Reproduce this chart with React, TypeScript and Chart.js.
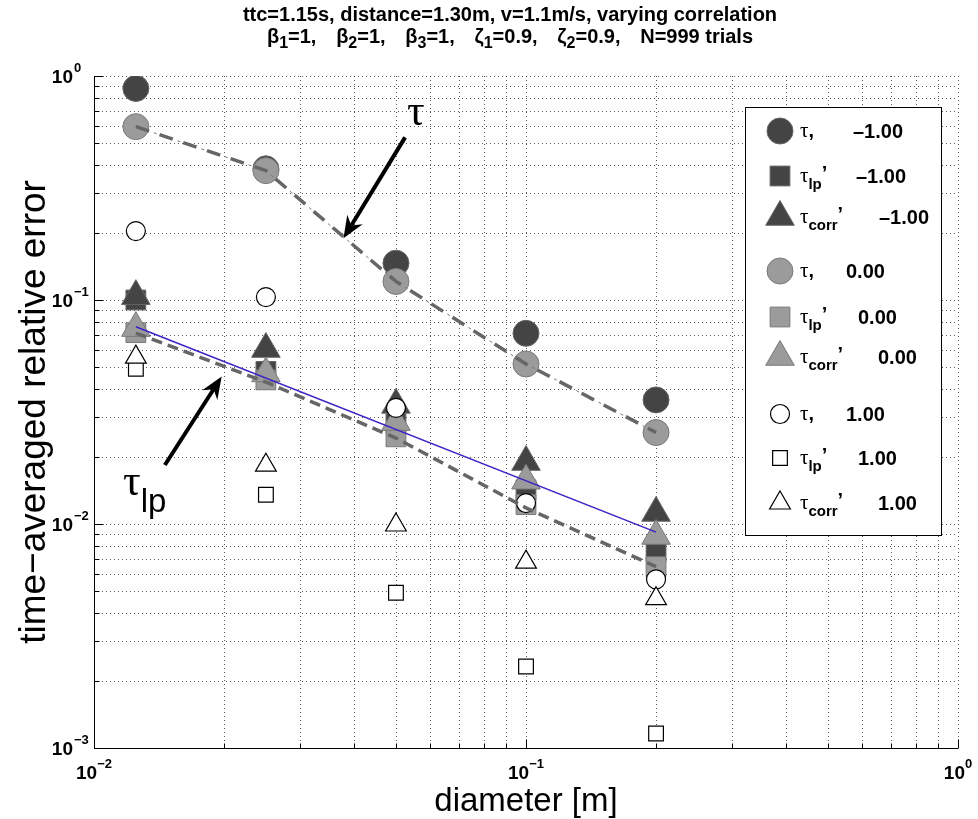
import React, { useEffect, useRef } from "react";
import { Chart, registerables } from "chart.js";
Chart.register(...registerables);

// ---------- data ----------
const diameters = [0.0125, 0.025, 0.05, 0.1, 0.2];
const tauNeg1 = [0.88, 0.385, 0.146, 0.071, 0.0358];
const tauLpNeg1 = [0.1, 0.048, 0.028, 0.0142, 0.0075];
const tauCorrNeg1 = [0.104, 0.0604, 0.034, 0.0189, 0.0112];
const tau0 = [0.594, 0.378, 0.121, 0.0518, 0.0256];
const tauLp0 = [0.0715, 0.044, 0.0245, 0.0122, 0.00645];
const tauCorr0 = [0.0749, 0.047, 0.0285, 0.0156, 0.00884];
const tau1 = [0.203, 0.103, 0.033, 0.0124, 0.00566];
const tauLp1 = [0.0493, 0.0135, 0.00493, 0.00231, 0.00116];
const tauCorr1 = [0.0556, 0.0183, 0.0099, 0.00676, 0.00464];

const tauTrendY = [0.594, 0.378, 0.121, 0.0518, 0.0256];
const tauLpTrendY = [0.0712, 0.043, 0.0242, 0.0118, 0.00645];
const fitX = [0.0125, 0.2];
const fitY = [0.076, 0.0092];

const xExponents = ["\u22122", "\u22121", "0"];
const xDecades = [0.01, 0.1, 1];
const yExponents = ["\u22123", "\u22122", "\u22121", "0"];
const yDecades = [0.001, 0.01, 0.1, 1];

const titleLine1 = "ttc=1.15s, distance=1.30m, v=1.1m/s, varying correlation";
const titleLine2 = [
  ["\u03b2", "1", "=1,"],
  ["\u03b2", "2", "=1,"],
  ["\u03b2", "3", "=1,"],
  ["\u03b6", "1", "=0.9,"],
  ["\u03b6", "2", "=0.9,"],
  ["N=999 trials", "", ""],
];
const xLabel = "diameter [m]";
const yLabel = "time\u2212averaged relative error";

const legendSubs = ["", "lp", "corr", "", "lp", "corr", "", "lp", "corr"];
const legendValues = ["\u20131.00", "\u20131.00", "\u20131.00", "0.00", "0.00", "0.00", "1.00", "1.00", "1.00"];

// annotation anchors (data coordinates)
const tauNote = { x: 0.053, y: 0.604 };
const tauArrow = { x1: 0.0525, y1: 0.532, x2: 0.0378, y2: 0.1886 };
const lpNote = { x: 0.01167, y: 0.01347 };
const lpArrow = { x1: 0.01459, y1: 0.01834, x2: 0.01975, y2: 0.0455 };

// ---------- styles ----------
const DARK = "#444444";
const DARK_EDGE = "#666666";
const GRAY = "#9b9b9b";
const GRAY_EDGE = "#7a7a7a";
const SANS = "'Liberation Sans', Arial, sans-serif";
const SERIF = "'Liberation Serif', 'DejaVu Serif', serif";

const pts = (ys: number[]) => diameters.map((d, i) => ({ x: d, y: ys[i] }));
const xy = (xs: number[], ys: number[]) => xs.map((d, i) => ({ x: d, y: ys[i] }));

function marker(data: number[], style: string, r: number, fill: string, edge: string, order: number, bw = 1) {
  return {
    data: pts(data),
    showLine: false,
    pointStyle: style,
    pointRadius: r,
    pointHoverRadius: r,
    backgroundColor: fill,
    borderColor: edge,
    pointBorderWidth: bw,
    borderWidth: bw,
    order,
  };
}

const markerSets = [
  marker(tauNeg1, "circle", 13, DARK, DARK_EDGE, 9),
  marker(tauLpNeg1, "rect", 14, DARK, DARK_EDGE, 8),
  marker(tauCorrNeg1, "triangle", 16.5, DARK, DARK_EDGE, 7),
  marker(tau0, "circle", 13, GRAY, GRAY_EDGE, 6),
  marker(tauLp0, "rect", 14, GRAY, GRAY_EDGE, 5),
  marker(tauCorr0, "triangle", 16.5, GRAY, GRAY_EDGE, 4),
  marker(tau1, "circle", 9.5, "#ffffff", "#000000", 3, 1.2),
  marker(tauLp1, "rect", 10.4, "#ffffff", "#000000", 2, 1.2),
  marker(tauCorr1, "triangle", 12, "#ffffff", "#000000", 1, 1.2),
];

type Run = { t: string; font: string; dy?: number; gap?: number };
function runsWidth(ctx: CanvasRenderingContext2D, runs: Run[]) {
  let w = 0;
  for (const r of runs) {
    ctx.font = r.font;
    w += ctx.measureText(r.t).width + (r.gap || 0);
  }
  return w;
}
function drawRuns(ctx: CanvasRenderingContext2D, runs: Run[], x: number, y: number, align: string) {
  const w = runsWidth(ctx, runs);
  let cx = align === "left" ? x : align === "center" ? x - w / 2 : x - w;
  ctx.textAlign = "left";
  ctx.textBaseline = "alphabetic";
  for (const r of runs) {
    ctx.font = r.font;
    ctx.fillText(r.t, cx, y + (r.dy || 0));
    cx += ctx.measureText(r.t).width + (r.gap || 0);
  }
  return cx;
}

function drawArrow(ctx: CanvasRenderingContext2D, x1: number, y1: number, x2: number, y2: number) {
  const ang = Math.atan2(y2 - y1, x2 - x1);
  const L = 22, W = 9, notch = 7;
  const bx = x2 - Math.cos(ang) * (L - notch);
  const by = y2 - Math.sin(ang) * (L - notch);
  ctx.strokeStyle = "#000";
  ctx.lineWidth = 4;
  ctx.lineCap = "butt";
  ctx.beginPath();
  ctx.moveTo(x1, y1);
  ctx.lineTo(bx, by);
  ctx.stroke();
  const backX = x2 - Math.cos(ang) * L;
  const backY = y2 - Math.sin(ang) * L;
  const nx = -Math.sin(ang), ny = Math.cos(ang);
  ctx.fillStyle = "#000";
  ctx.beginPath();
  ctx.moveTo(x2, y2);
  ctx.lineTo(backX + nx * W, backY + ny * W);
  ctx.lineTo(bx, by);
  ctx.lineTo(backX - nx * W, backY - ny * W);
  ctx.closePath();
  ctx.fill();
}

function drawLegendMarker(ctx: CanvasRenderingContext2D, ds: any, x: number, y: number) {
  const r = ds.pointRadius;
  ctx.fillStyle = ds.backgroundColor;
  ctx.strokeStyle = ds.borderColor;
  ctx.lineWidth = ds.pointBorderWidth;
  ctx.beginPath();
  if (ds.pointStyle === "circle") {
    ctx.arc(x, y, r, 0, Math.PI * 2);
  } else if (ds.pointStyle === "rect") {
    const s = Math.SQRT1_2 * r;
    ctx.rect(x - s, y - s, 2 * s, 2 * s);
  } else {
    const h = (2 * Math.PI) / 3;
    for (let k = 0; k < 3; k++) {
      const a = k * h;
      const px = x + Math.sin(a) * r;
      const py = y - Math.cos(a) * r;
      if (k === 0) ctx.moveTo(px, py);
      else ctx.lineTo(px, py);
    }
    ctx.closePath();
  }
  ctx.fill();
  ctx.stroke();
}

function gridValues(decades: number[]) {
  const out: number[] = [];
  for (let i = 0; i < decades.length - 1; i++) {
    for (let m = 1; m <= 9; m++) out.push(decades[i] * m);
  }
  out.push(decades[decades.length - 1]);
  return out;
}

const overlay = {
  id: "overlay",
  beforeDraw(chart: any) {
    const { ctx, width, height } = chart;
    ctx.save();
    ctx.fillStyle = "#fff";
    ctx.fillRect(0, 0, width, height);
    ctx.restore();
  },
  beforeDatasetsDraw(chart: any) {
    const { ctx, chartArea: a, scales } = chart;
    const xs = scales.x, ys = scales.y;
    ctx.save();
    ctx.strokeStyle = "rgba(0,0,0,0.65)";
    ctx.lineWidth = 1;
    ctx.setLineDash([1, 3]);
    for (const v of gridValues(xDecades)) {
      const px = Math.round(xs.getPixelForValue(v)) + 0.5;
      ctx.beginPath();
      ctx.moveTo(px, a.top);
      ctx.lineTo(px, a.bottom);
      ctx.stroke();
    }
    for (const v of gridValues(yDecades)) {
      const py = Math.round(ys.getPixelForValue(v)) + 0.5;
      ctx.beginPath();
      ctx.moveTo(a.left, py);
      ctx.lineTo(a.right, py);
      ctx.stroke();
    }
    ctx.setLineDash([]);
    ctx.strokeStyle = "#000";
    ctx.lineWidth = 1;
    const L = Math.round(a.left) + 0.5;
    const B = Math.round(a.bottom) + 0.5;
    ctx.beginPath();
    ctx.moveTo(L, a.top);
    ctx.lineTo(L, B);
    ctx.lineTo(a.right, B);
    ctx.stroke();
    for (const v of gridValues(xDecades)) {
      const px = Math.round(xs.getPixelForValue(v)) + 0.5;
      const len = xDecades.includes(v) ? 9 : 5;
      ctx.beginPath();
      ctx.moveTo(px, B);
      ctx.lineTo(px, B - len);
      ctx.stroke();
    }
    for (const v of gridValues(yDecades)) {
      const py = Math.round(ys.getPixelForValue(v)) + 0.5;
      const len = yDecades.includes(v) ? 9 : 5;
      ctx.beginPath();
      ctx.moveTo(L, py);
      ctx.lineTo(L + len, py);
      ctx.stroke();
    }
    ctx.restore();
  },
  afterDatasetsDraw(chart: any) {
    const { ctx, chartArea: a, scales } = chart;
    const xs = scales.x, ys = scales.y;
    ctx.save();
    ctx.fillStyle = "#000";
    const TF = `bold 19px ${SANS}`;
    const SF = `bold 13px ${SANS}`;
    xDecades.forEach((v, i) => {
      const px = xs.getPixelForValue(v);
      drawRuns(ctx, [{ t: "10", font: TF }, { t: xExponents[i], font: SF, dy: -11 }], px, a.bottom + 31, "center");
    });
    yDecades.forEach((v, i) => {
      const py = ys.getPixelForValue(v);
      ctx.font = TF;
      ctx.textAlign = "right";
      ctx.textBaseline = "alphabetic";
      ctx.fillText("10", a.left - 21, py + 7);
      ctx.font = SF;
      ctx.textAlign = "left";
      ctx.fillText(yExponents[i], a.left - 20, py - 4);
    });
    ctx.font = `33px ${SANS}`;
    ctx.textAlign = "center";
    ctx.textBaseline = "alphabetic";
    ctx.fillText(xLabel, (a.left + a.right) / 2, a.bottom + 63);
    ctx.save();
    ctx.font = `37px ${SANS}`;
    ctx.translate(45, (a.top + a.bottom) / 2);
    ctx.rotate(-Math.PI / 2);
    ctx.fillText(yLabel, 0, 0);
    ctx.restore();
    // title
    const cx = (a.left + a.right) / 2 - 16;
    const TTF = `bold 20px ${SANS}`;
    ctx.font = TTF;
    ctx.textAlign = "center";
    ctx.fillText(titleLine1, cx, 21);
    const line1W = ctx.measureText(titleLine1).width;
    const runs: Run[] = [];
    for (const [g, s, rest] of titleLine2) {
      runs.push({ t: g, font: TTF });
      if (s) runs.push({ t: s, font: `bold 16px ${SANS}`, dy: 5 });
      if (rest) runs.push({ t: rest, font: TTF });
    }
    const baseW = runsWidth(ctx, runs);
    const gap = Math.max(8, (line1W * 0.91 - baseW) / (titleLine2.length - 1));
    for (const r of runs) {
      if (r.t.endsWith(",")) r.gap = gap;
    }
    drawRuns(ctx, runs, cx, 43, "center");
    // annotations
    ctx.fillStyle = "#000";
    ctx.font = `44px ${SERIF}`;
    ctx.textAlign = "left";
    ctx.fillText("\u03c4", xs.getPixelForValue(tauNote.x), ys.getPixelForValue(tauNote.y));
    drawArrow(ctx, xs.getPixelForValue(tauArrow.x1), ys.getPixelForValue(tauArrow.y1), xs.getPixelForValue(tauArrow.x2), ys.getPixelForValue(tauArrow.y2));
    drawRuns(
      ctx,
      [
        { t: "\u03c4", font: `44px ${SERIF}` },
        { t: "lp", font: `33px ${SANS}`, dy: 17 },
      ],
      xs.getPixelForValue(lpNote.x),
      ys.getPixelForValue(lpNote.y),
      "left"
    );
    drawArrow(ctx, xs.getPixelForValue(lpArrow.x1), ys.getPixelForValue(lpArrow.y1), xs.getPixelForValue(lpArrow.x2), ys.getPixelForValue(lpArrow.y2));
    // legend
    const bx = 745.5, by = 107.5, bw = 196, bh = 428;
    ctx.fillStyle = "#fff";
    ctx.fillRect(bx, by, bw, bh);
    ctx.strokeStyle = "#000";
    ctx.lineWidth = 1;
    ctx.strokeRect(bx, by, bw, bh);
    const rowY = [131, 176, 217, 271, 317, 357, 414, 458, 503];
    const valX: any = { "": [853, 846], lp: [856, 858], corr: [879, 878] };
    markerSets.forEach((ds: any, i: number) => {
      const y = rowY[i];
      drawLegendMarker(ctx, ds, 780, y);
      ctx.fillStyle = "#000";
      const sub = legendSubs[i];
      const r: Run[] = [{ t: "\u03c4", font: `21px ${SERIF}` }];
      if (sub) {
        r.push({ t: sub, font: `bold 15px ${SANS}`, dy: 7 });
        r.push({ t: "\u2019", font: `bold 20px ${SANS}`, dy: -2 });
      } else {
        r.push({ t: ",", font: `bold 20px ${SANS}` });
      }
      drawRuns(ctx, r, 800, y + 6, "left");
      const neg = legendValues[i].startsWith("\u2013");
      ctx.font = `bold 20px ${SANS}`;
      ctx.textAlign = "left";
      ctx.fillText(legendValues[i], valX[sub][neg ? 0 : 1], y + 7);
    });
    ctx.restore();
  },
};

export default function App() {
  const ref = useRef<HTMLCanvasElement>(null);
  useEffect(() => {
    const canvas = ref.current;
    if (!canvas) return;
    const lineSets: any[] = [
      {
        data: xy(fitX, fitY),
        showLine: true,
        borderColor: "#3a24c4",
        borderWidth: 1.5,
        pointRadius: 0,
        fill: false,
        order: 0,
      },
      {
        data: pts(tauLpTrendY),
        showLine: true,
        borderColor: "#666666",
        borderWidth: 3.5,
        borderDash: [11, 6],
        pointRadius: 0,
        fill: false,
        order: 0,
      },
      {
        data: pts(tauTrendY),
        showLine: true,
        borderColor: "#666666",
        borderWidth: 3.5,
        borderDash: [14, 11],
        pointRadius: 0,
        fill: false,
        order: 0,
      },
      {
        data: pts(tauTrendY),
        showLine: true,
        borderColor: "#777777",
        borderWidth: 1,
        borderDash: [3, 22],
        borderDashOffset: 6,
        pointRadius: 0,
        fill: false,
        order: 0,
      },
    ];
    const chart = new Chart(canvas, {
      type: "scatter",
      data: { datasets: [...lineSets, ...markerSets] as any },
      options: {
        animation: false,
        responsive: false,
        devicePixelRatio: 1,
        layout: { padding: { left: 94, right: 20, top: 76, bottom: 71 } },
        scales: {
          x: { type: "logarithmic", min: 0.01, max: 1, display: false },
          y: { type: "logarithmic", min: 0.001, max: 1, display: false },
        },
        plugins: { legend: { display: false }, tooltip: { enabled: false }, title: { display: false } },
        events: [],
      } as any,
      plugins: [overlay as any],
    });
    return () => chart.destroy();
  }, []);
  return (
    <div style={{ position: "fixed", left: 0, top: 0, width: 978, height: 819, background: "#fff" }}>
      <canvas ref={ref} width={978} height={819} style={{ display: "block" }} />
    </div>
  );
}
